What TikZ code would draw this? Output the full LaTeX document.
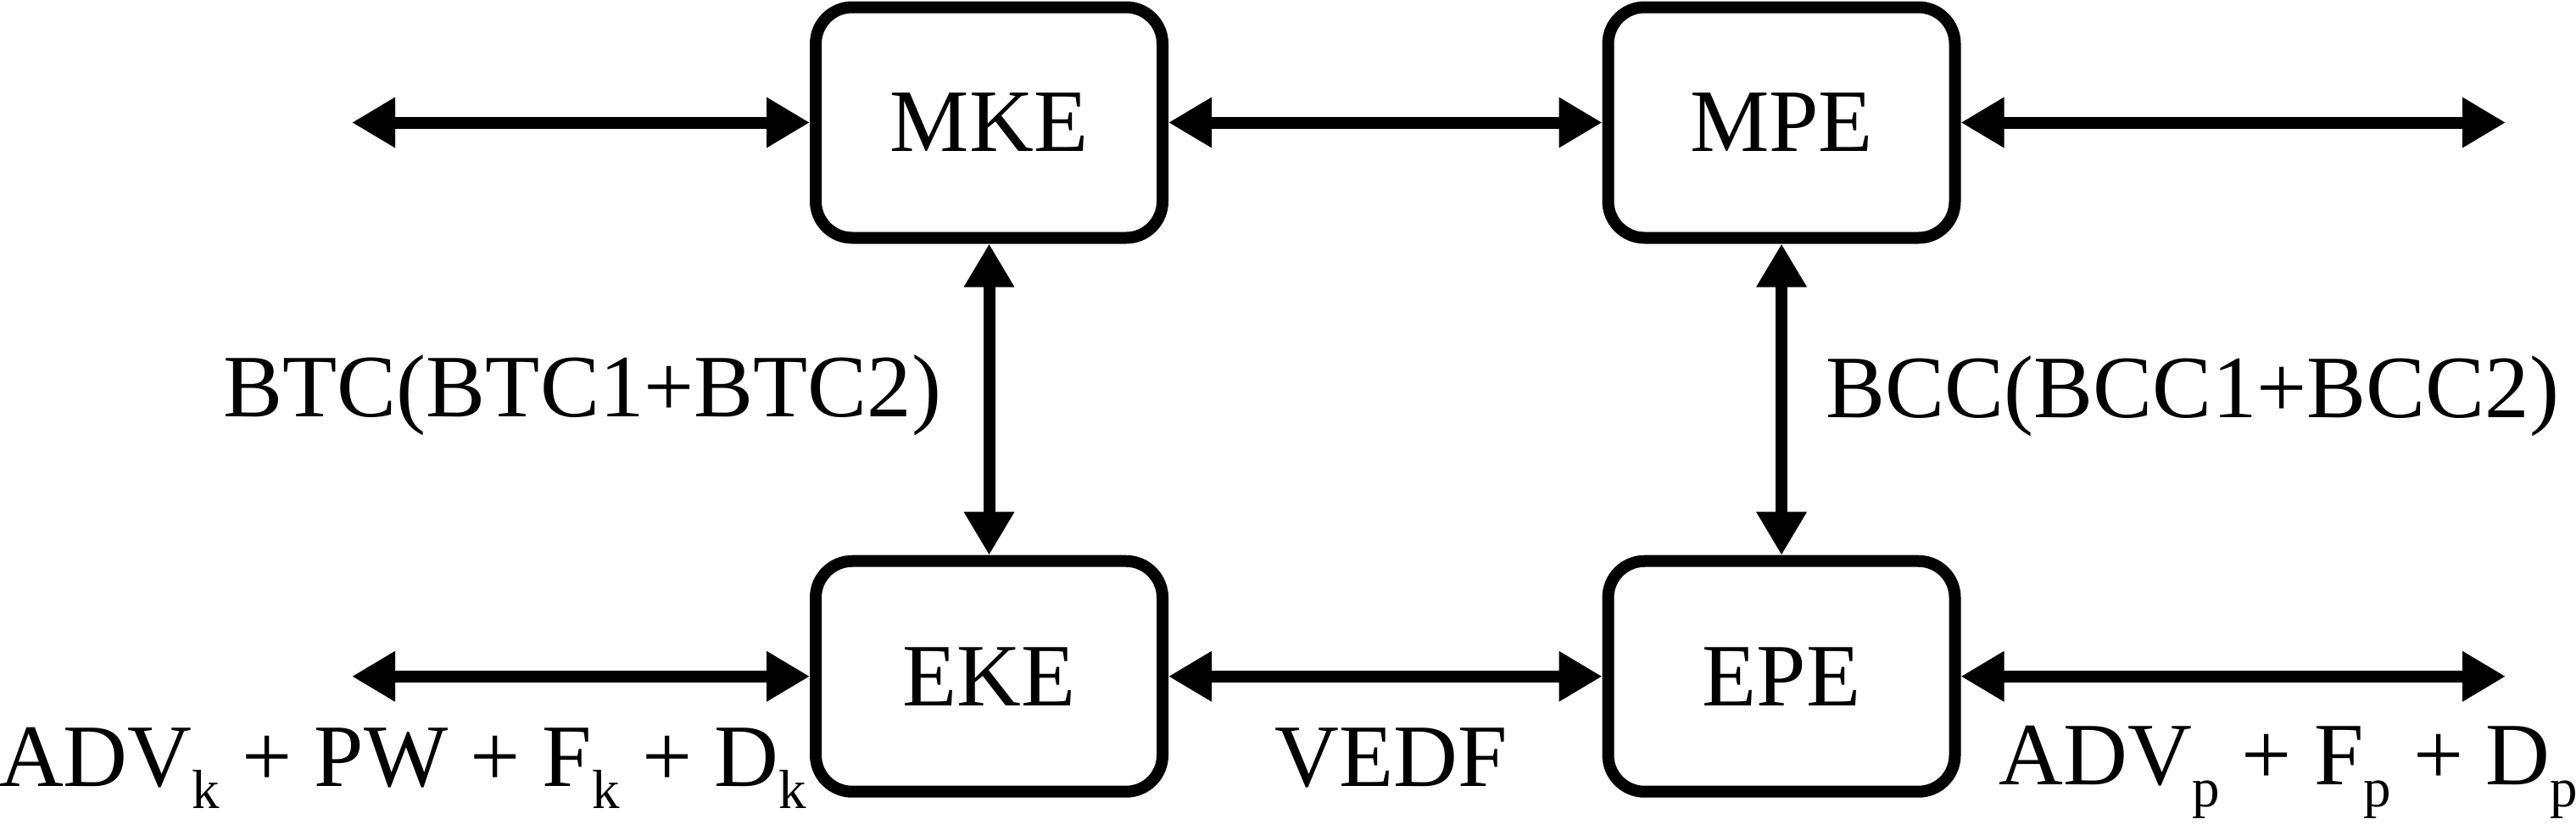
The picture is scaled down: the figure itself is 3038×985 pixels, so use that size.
\documentclass[tikz,border=0pt]{standalone}
\usepackage{fontspec}
\setmainfont{Liberation Serif}
\usetikzlibrary{arrows.meta}

\newcommand{\lowsub}[1]{\raisebox{-2.6pt}{\fontsize{6.5}{7}\selectfont #1}}

\begin{document}
\begin{tikzpicture}[x=0.1pt,y=0.1pt,yscale=-1,
  font=\fontsize{10.5}{12}\selectfont,
  >={Triangle[length=5.1pt,width=5.6pt]},
  unit/.style={draw,line width=1.4pt,rounded corners=4.3pt,minimum width=40.9pt,minimum height=27.2pt,inner sep=0pt},
  link/.style={line width=1.4pt,<->},
  lbl/.style={inner sep=0pt,anchor=base}]
\useasboundingbox (0,0) rectangle (3038,985);

%Shape: Rounded Rect [MKE]
\draw (1166.5,144.5) node (mke) [unit] {MKE};
%Shape: Rounded Rect [MPE]
\draw (2101,144.5) node (mpe) [unit] {MPE};
%Shape: Rounded Rect [EKE]
\draw (1166.5,797.7) node (eke) [unit] {EKE};
%Shape: Rounded Rect [EPE]
\draw (2101,797.7) node (epe) [unit] {EPE};

%free ends
\coordinate (mkeout) at (415,144.5);
\coordinate (mpeout) at (2955,144.5);
\coordinate (ekeout) at (415,797.7);
\coordinate (epeout) at (2955,797.7);

%Straight Lines
\draw [link] (mkeout) -- (mke.west);
\draw [link] (mke.east) -- (mpe.west);
\draw [link] (mpe.east) -- (mpeout);
\draw [link] (ekeout) -- (eke.west);
\draw [link] (eke.east) -- (epe.west);
\draw [link] (epe.east) -- (epeout);
\draw [link] (mke.south) -- (eke.north);
\draw [link] (mpe.south) -- (epe.north);

% Text Node
\draw (687,491) node (btc) [lbl] {BTC(BTC1+BTC2)};
% Text Node
\draw (2586,492) node (bcc) [lbl] {BCC(BCC1+BCC2)};
% Text Node
\draw (475,927) node (srck) [lbl] {ADV\lowsub{k} + PW + F\lowsub{k} + D\lowsub{k}};
% Text Node
\draw (1641,927) node (vedf) [lbl] {VEDF};
% Text Node
\draw (2699,925) node (srcp) [lbl] {ADV\lowsub{p} + F\lowsub{p} + D\lowsub{p}};

\end{tikzpicture}
\end{document}
